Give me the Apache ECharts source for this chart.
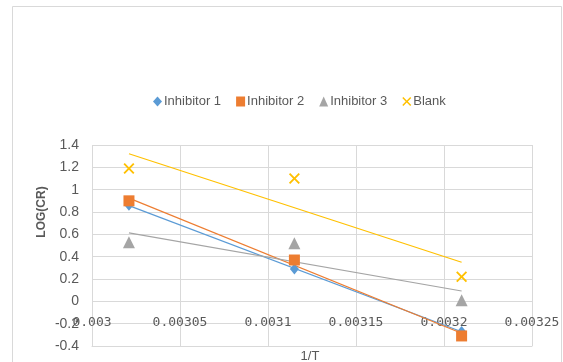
<!DOCTYPE html>
<html><head><meta charset="utf-8">
<script src="https://cdn.jsdelivr.net/npm/echarts@6/dist/echarts.min.js"></script>
<style>html,body{margin:0;padding:0;background:#fff}#c{width:563px;height:362px}</style>
</head><body><div id="c"></div>
<script>
// Data
const invT = [0.003021, 0.003115, 0.00321];
const inhibitor1 = [0.86, 0.29, -0.27];
const inhibitor2 = [0.90, 0.37, -0.31];
const inhibitor3 = [0.53, 0.52, 0.01];
const blank = [1.19, 1.10, 0.22];
const seriesNames = ['Inhibitor 1', 'Inhibitor 2', 'Inhibitor 3', 'Blank'];
const xTickLabels = ['0.003', '0.00305', '0.0031', '0.00315', '0.0032', '0.00325'];
const yTickLabels = ['-0.4', '-0.2', '0', '0.2', '0.4', '0.6', '0.8', '1', '1.2', '1.4'];

const colors = ['#5B9BD5', '#ED7D31', '#A5A5A5', '#FFC000'];
const xMark = 'path://M0,1.2L1.2,0L5,3.8L8.8,0L10,1.2L6.2,5L10,8.8L8.8,10L5,6.2L1.2,10L0,8.8L3.8,5Z';
const symbols = ['diamond', 'rect', 'triangle', xMark];
const symSizes = [[9, 11], 11, 12, 11];
const values = [inhibitor1, inhibitor2, inhibitor3, blank];

function fit(xs, ys) {
  const n = xs.length;
  const mx = xs.reduce((a, b) => a + b, 0) / n;
  const my = ys.reduce((a, b) => a + b, 0) / n;
  let sxy = 0, sxx = 0;
  for (let i = 0; i < n; i++) { sxy += (xs[i] - mx) * (ys[i] - my); sxx += (xs[i] - mx) ** 2; }
  const b = sxy / sxx, a = my - b * mx;
  const x0 = Math.min(...xs), x1 = Math.max(...xs);
  return [[x0, a + b * x0], [x1, a + b * x1]];
}

const series = [];
values.forEach((ys, i) => {
  series.push({
    name: seriesNames[i] + ' trend', type: 'line', data: fit(invT, ys),
    showSymbol: false, silent: true, z: 2,
    lineStyle: { color: colors[i], width: 1.2 }
  });
});
values.forEach((ys, i) => {
  series.push({
    name: seriesNames[i], type: 'scatter', z: 5,
    data: invT.map((x, k) => [x, ys[k]]),
    symbol: symbols[i], symbolSize: symSizes[i],
    itemStyle: { color: colors[i], opacity: 1 }
  });
});

const chart = echarts.init(document.getElementById('c'), null, { renderer: 'canvas' });
chart.setOption({
  animation: false,
  backgroundColor: '#fff',
  color: colors,
  grid: { left: 92, right: 31, top: 145, bottom: 16, containLabel: false, outerBoundsMode: 'none' },
  legend: {
    data: seriesNames.map((n, i) => ({ name: n, icon: i === 3 ? xMark : (i === 0 ? 'diamond' : (i === 1 ? 'rect' : 'triangle')) })),
    left: 148, top: 90, itemWidth: 9, itemHeight: 10, itemGap: 15,
    textStyle: { fontFamily: 'Liberation Sans Narrow, Liberation Sans, sans-serif', fontSize: 13, color: '#595959', padding: [0, 0, 0, -3] }
  },
  xAxis: {
    type: 'value', min: 0.003, max: 0.00325, interval: 0.00005,
    axisLine: { onZero: false, lineStyle: { color: '#D9D9D9' } },
    axisTick: { show: false },
    splitLine: { lineStyle: { color: '#D9D9D9' } },
    axisLabel: {
      margin: -30, color: '#595959', fontFamily: 'DejaVu Sans Mono, monospace', fontSize: 13,
      formatter: v => xTickLabels[Math.round((v - 0.003) / 0.00005)]
    }
  },
  yAxis: {
    type: 'value', min: -0.4, max: 1.4, interval: 0.2,
    axisLine: { show: false }, axisTick: { show: false },
    splitLine: { lineStyle: { color: '#D9D9D9' } },
    axisLabel: {
      margin: 13, color: '#595959', fontFamily: 'Liberation Sans Narrow, Liberation Sans, sans-serif', fontSize: 14,
      formatter: v => yTickLabels[Math.round((v + 0.4) / 0.2)]
    }
  },
  graphic: [
    { type: 'rect', shape: { x: 12.5, y: 6.5, width: 549, height: 400 }, style: { fill: 'none', stroke: '#D9D9D9', lineWidth: 1 }, z: -1 },
    { type: 'text', x: 42, y: 212, rotation: Math.PI / 2, style: { text: 'LOG(CR)', font: 'bold 12px Liberation Sans, sans-serif', fill: '#595959', align: 'center', verticalAlign: 'middle' } },
    { type: 'text', x: 310, y: 356, style: { text: '1/T', font: '13px Liberation Sans Narrow, Liberation Sans, sans-serif', fill: '#595959', align: 'center', verticalAlign: 'middle' } }
  ],
  series
});
</script></body></html>
